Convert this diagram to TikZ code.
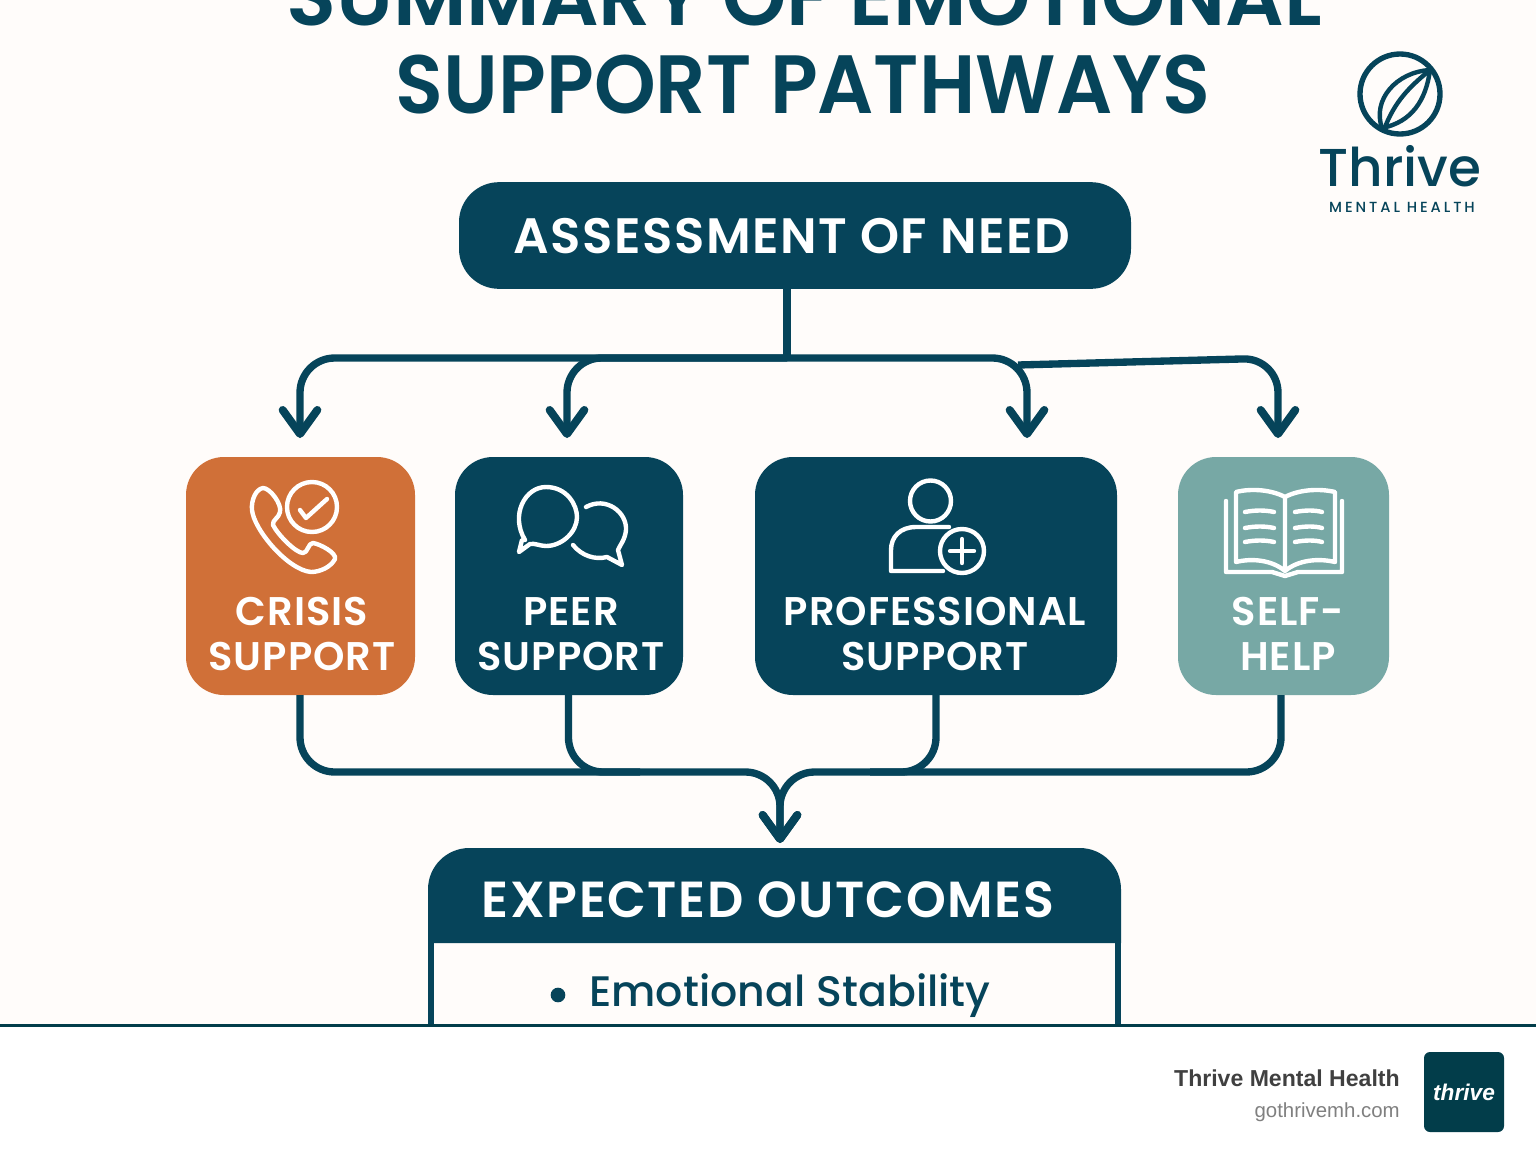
\documentclass[tikz,border=0pt]{standalone}
\usepackage{fontspec}
\usepackage{tikz}
\usetikzlibrary{arrows.meta,positioning}
\newfontfamily\headfont{Poppins Medium}
\newfontfamily\titlefont[FakeStretch=0.95]{Poppins SemiBold}
\newfontfamily\titletopfont[FakeStretch=0.99]{Poppins SemiBold}
\newfontfamily\strongfont[LetterSpace=2.5]{Poppins SemiBold}
\newfontfamily\capsfont[LetterSpace=3]{Poppins SemiBold}
\newfontfamily\tinyfont[LetterSpace=20]{Poppins Medium}
\newfontfamily\footfont{Liberation Sans}
\definecolor{deepteal}{HTML}{06445A}
\definecolor{footteal}{HTML}{023D4A}
\definecolor{burntorange}{HTML}{D07038}
\definecolor{sagegreen}{HTML}{77A8A5}
\definecolor{paper}{HTML}{FFFCFA}

\begin{document}
\begin{tikzpicture}[x=0.75pt,y=-0.75pt,node distance=30pt,
                    main box/.style={rectangle,rounded corners=28.5pt,inner sep=0pt,outer sep=0pt,
                                     minimum height=178.5pt},
                    box text/.style={text=white,align=center,font=\strongfont\fontsize{30}{33.75}\selectfont},
                    flow/.style={draw=deepteal,line width=5.5pt,rounded corners=26pt},
                    flow arrow/.style={flow,-{Straight Barb[length=18pt,width=26pt,round,line width=6pt]}},
                    icon/.style={draw=white,line width=3.3pt,line cap=round,line join=round}]
  \clip (0,0) rectangle (1536,1154);
  \fill[paper] (0,0) rectangle (1536,1026);
  \fill[white] (0,1026) rectangle (1536,1154);

  %title%
  \node[anchor=base,text=deepteal,font=\titletopfont\fontsize{62}{70}\selectfont] (title top) at (804,25) {SUMMARY OF EMOTIONAL};
  \node[anchor=base,text=deepteal,font=\titlefont\fontsize{62}{70}\selectfont] (title bottom) at (803,113) {SUPPORT PATHWAYS};

  %logo%
  \node[circle,draw=deepteal,line width=4pt,minimum size=60pt,inner sep=0pt] (leaf) at (1400,94) {};
  \draw[deepteal,line width=3.3pt] (1382,128) .. controls (1372,100) and (1396,72) .. (1430,70)
    .. controls (1426,100) and (1412,122) .. (1382,128);
  \draw[deepteal,line width=3.3pt] (1385,127) .. controls (1395,102) and (1408,88) .. (1430,70);
  \node[anchor=base,text=deepteal,font=\headfont\fontsize{40}{44}\selectfont] (thrive) at (1400,186) {Thrive};
  \node[anchor=base,text=deepteal,font=\tinyfont\fontsize{11}{13}\selectfont] (mental) at (1402,212) {MENTAL HEALTH};

  %boxes%
  \node[main box,fill=deepteal,minimum width=504pt,minimum height=80pt,rounded corners=30pt] (need) at (795,235.5) {};
  \node[text=white,font=\capsfont\fontsize{37.3}{42}\selectfont] (need text) at (792,236) {ASSESSMENT OF NEED};
  \node[main box,fill=burntorange,minimum width=171.75pt] (crisis) at (300.5,576) {};
  \node[main box,fill=deepteal,minimum width=171pt,right=30pt of crisis] (peer) {};
  \node[main box,fill=deepteal,minimum width=271.5pt,right=54pt of peer] (prof) {};
  \node[main box,fill=sagegreen,minimum width=158.25pt,right=45.75pt of prof] (self) {};
  \node[box text] (crisis text) at (302,634) {CRISIS\\SUPPORT};
  \node[box text] (peer text) at (571,634) {PEER\\SUPPORT};
  \node[box text] (prof text) at (935,634) {PROFESSIONAL\\SUPPORT};
  \node[box text] (self text) at (1288,634) {SELF-\\HELP};

  %phone%
  \draw[icon] (252,510) .. controls (251,500) and (256,489) .. (263,488)
    .. controls (270,488) and (282,504) .. (280,512) .. controls (279,518) and (272,520) .. (273,525)
    .. controls (278,535) and (296,553) .. (303,553) .. controls (308,553) and (308,543) .. (313,543)
    .. controls (320,544) and (337,553) .. (335,559) .. controls (331,567) and (320,572) .. (311,572)
    .. controls (288,570) and (254,530) .. (252,510);
  \draw[icon] (312,507) circle (25);
  \draw[icon] (300,510) -- (306,518) -- (327,499);

  %chat%
  \draw[icon] (525,540) .. controls (510,515) and (525,487) .. (546,487)
    .. controls (567,487) and (577,505) .. (577,517) .. controls (577,532) and (562,546) .. (546,546)
    .. controls (540,546) and (535,543) .. (530,544) -- (519,552) -- (522,540) -- (525,540);
  \draw[icon] (586,507) .. controls (606,496) and (627,512) .. (626,530)
    .. controls (625,540) and (620,545) .. (618,550) -- (622,565) -- (607,557)
    .. controls (595,560) and (582,556) .. (573,545);

  %person%
  \draw[icon] (930.5,501) circle (20.5);
  \draw[icon] (949,527) -- (916,527) .. controls (900,527) and (891,537) .. (891,550)
    -- (891,571) -- (943,571);
  \draw[icon] (962,551) circle (22);
  \draw[icon] (950,551) -- (974,551);
  \draw[icon] (962,539) -- (962,563);

  %book%
  \draw[icon] (1226,501) -- (1226,572) -- (1272,572) -- (1285,576) -- (1298,572) -- (1342,572) -- (1342,501);
  \draw[icon] (1285,497) .. controls (1272,490) and (1252,488) .. (1236,492) -- (1236,562)
    .. controls (1252,558) and (1272,560) .. (1285,571) .. controls (1298,560) and (1318,558) .. (1335,562)
    -- (1335,492) .. controls (1318,488) and (1298,490) .. (1285,497) -- (1285,571);
  \foreach \ly in {512,528,542}{
    \draw[icon] (1245,\ly) .. controls (1255,\ly-2) and (1265,\ly-2) .. (1274,\ly);
    \draw[icon] (1295,\ly) .. controls (1305,\ly-2) and (1315,\ly-2) .. (1322,\ly);
  }

  %connectors in%
  \coordinate (split) at (787,358);
  \coordinate (self start) at (1018,365);
  \coordinate (crisis in) at (300,438);
  \coordinate (peer in) at (567,438);
  \coordinate (prof in) at (1027,438);
  \coordinate (self in) at (1278,438);
  \draw[flow,rounded corners=0pt] (split |- need.south) -- (split);
  \draw[flow arrow] (split) -| (crisis in);
  \draw[flow arrow] (split) -| (peer in);
  \draw[flow arrow] (split) -| (prof in);
  \draw[flow arrow] (self start) -- (1278,358) -- (self in);

  %connectors out%
  \coordinate (merge) at (780,772);
  \coordinate (merge tip) at (780,843);
  \coordinate (peer join) at (640,772);
  \coordinate (prof join) at (870,772);
  \coordinate (self out) at (1281,695);
  \draw[flow arrow] (crisis.south -| crisis in) |- (merge) -- (merge tip);
  \draw[flow] ([xshift=-0.4pt]peer.south) |- (peer join);
  \draw[flow] (prof.south) |- (prof join);
  \draw[flow arrow] (self out) |- (merge) -- (merge tip);

  %outcomes%
  \fill[paper] (432,940) rectangle (1117,1026);
  \draw[deepteal,line width=4pt] (431,940) -- (431,1026);
  \draw[deepteal,line width=4pt] (1118,940) -- (1118,1026);
  \fill[deepteal] (428,943) [rounded corners=31pt] -- (428,848) -- (1121,848) [sharp corners] -- (1121,943) -- cycle;
  \node[text=white,font=\capsfont\fontsize{38}{42}\selectfont] (outcomes) at (768,900) {EXPECTED OUTCOMES};
  \node[circle,fill=deepteal,minimum size=11pt,inner sep=0pt] (dot) at (558,995) {};
  \node[anchor=base west,inner sep=0pt,text=deepteal,font=\headfont\fontsize{32}{36}\selectfont] (stability) at (589,1006) {Emotional Stability};

  %footer%
  \draw[footteal,line width=2pt] (0,1025.5) -- (1536,1025.5);
  \node[anchor=base east,inner sep=0pt,text=black!75,font=\footfont\bfseries\fontsize{17.3}{22}\selectfont] (brand) at (1400,1086) {Thrive Mental Health};
  \node[anchor=base east,inner sep=0pt,text=black!50,font=\footfont\fontsize{15.3}{18}\selectfont] (site) at (1400,1117) {gothrivemh.com};
  \node[rectangle,fill=footteal,rounded corners=4.5pt,minimum size=60pt,inner sep=0pt,text=white,font=\footfont\bfseries\itshape\fontsize{17}{20}\selectfont] (badge) at (1464,1092) {thrive};
\end{tikzpicture}
\end{document}
